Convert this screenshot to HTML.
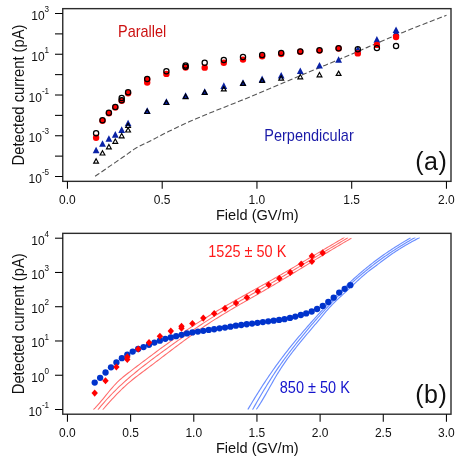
<!DOCTYPE html>
<html><head><meta charset="utf-8"><title>Figure</title>
<style>html,body{margin:0;padding:0;background:#fff}body{width:469px;height:469px;overflow:hidden;font-family:"Liberation Sans",sans-serif}</style></head>
<body>
<svg width="469" height="469" viewBox="0 0 469 469" style="display:block;will-change:transform;font-family:'Liberation Sans',sans-serif">
<rect width="469" height="469" fill="#fff"/>
<path d="M95.10 176.30L98.05 174.27L101.01 172.24L103.96 170.21L106.91 168.18L109.86 166.14L112.82 164.11L115.77 162.08L118.72 160.06L121.68 158.05L124.63 156.01L127.58 153.92L130.54 151.71L133.49 149.63L136.44 147.85L139.39 146.27L142.35 144.81L145.30 143.40L148.25 141.98L151.21 140.48L154.16 138.94L157.11 137.38L160.06 135.83L163.02 134.30L165.97 132.82L168.92 131.36L171.88 129.91L174.83 128.49L177.78 127.07L180.74 125.68L183.69 124.30L186.64 122.95L189.59 121.62L192.55 120.31L195.50 119.02L198.45 117.76L201.41 116.52L204.36 115.29L207.31 114.07L210.26 112.86L213.22 111.66L216.17 110.46L219.12 109.26L222.08 108.08L225.03 106.91L227.98 105.74L230.94 104.58L233.89 103.42L236.84 102.24L239.79 101.06L242.75 99.86L245.70 98.64L248.65 97.40L251.61 96.15L254.56 94.90L257.51 93.65L260.46 92.40L263.42 91.16L266.37 89.92L269.32 88.68L272.28 87.45L275.23 86.21L278.18 84.97L281.14 83.73L284.09 82.49L287.04 81.25L289.99 80.02L292.95 78.78L295.90 77.54L298.85 76.30L301.81 75.07L304.76 73.83L307.71 72.59L310.66 71.35L313.62 70.11L316.57 68.87L319.52 67.63L322.48 66.39L325.43 65.15L328.38 63.91L331.34 62.67L334.29 61.43L337.24 60.18L340.19 58.94L343.15 57.69L346.10 56.45L349.05 55.20L352.01 53.95L354.96 52.70L357.91 51.44L360.86 50.17L363.82 48.90L366.77 47.63L369.72 46.36L372.68 45.08L375.63 43.81L378.58 42.54L381.54 41.28L384.49 40.02L387.44 38.76L390.39 37.52L393.35 36.28L396.30 35.06L399.25 33.85L402.21 32.64L405.16 31.45L408.11 30.26L411.06 29.07L414.02 27.90L416.97 26.73L419.92 25.56L422.88 24.40L425.83 23.25L428.78 22.10L431.74 20.96L434.69 19.83L437.64 18.70L440.59 17.57L443.55 16.46L446.50 15.35" fill="none" stroke="#555" stroke-width="1.1" stroke-dasharray="5.2 2.5"/>
<path d="M96.10 146.65L99.50 153.25L92.70 153.25Z" fill="#0a22a6"/>
<path d="M102.50 140.15L105.90 146.75L99.10 146.75Z" fill="#0a22a6"/>
<path d="M108.90 135.25L112.30 141.85L105.50 141.85Z" fill="#0a22a6"/>
<path d="M115.30 131.05L118.70 137.65L111.90 137.65Z" fill="#0a22a6"/>
<path d="M121.70 126.35L125.10 132.95L118.30 132.95Z" fill="#0a22a6"/>
<path d="M128.10 119.65L131.50 126.25L124.70 126.25Z" fill="#0a22a6"/>
<path d="M147.20 107.20L150.60 113.80L143.80 113.80Z" fill="#0a22a6"/>
<path d="M166.40 98.15L169.80 104.75L163.00 104.75Z" fill="#0a22a6"/>
<path d="M185.60 92.25L189.00 98.85L182.20 98.85Z" fill="#0a22a6"/>
<path d="M204.70 88.15L208.10 94.75L201.30 94.75Z" fill="#0a22a6"/>
<path d="M223.80 82.35L227.20 88.95L220.40 88.95Z" fill="#0a22a6"/>
<path d="M243.00 79.15L246.40 85.75L239.60 85.75Z" fill="#0a22a6"/>
<path d="M262.15 75.55L265.55 82.15L258.75 82.15Z" fill="#0a22a6"/>
<path d="M281.20 71.95L284.60 78.55L277.80 78.55Z" fill="#0a22a6"/>
<path d="M300.30 67.45L303.70 74.05L296.90 74.05Z" fill="#0a22a6"/>
<path d="M319.50 61.95L322.90 68.55L316.10 68.55Z" fill="#0a22a6"/>
<path d="M338.60 56.25L342.00 62.85L335.20 62.85Z" fill="#0a22a6"/>
<path d="M357.80 45.75L361.20 52.35L354.40 52.35Z" fill="#0a22a6"/>
<path d="M376.90 36.05L380.30 42.65L373.50 42.65Z" fill="#0a22a6"/>
<path d="M396.05 26.45L399.45 33.05L392.65 33.05Z" fill="#0a22a6"/>
<path d="M396.05 29.05L399.45 35.65L392.65 35.65Z" fill="#0a22a6"/>
<path d="M96.10 158.80L98.50 163.10L93.70 163.10Z" fill="none" stroke="#000" stroke-width="1.15" stroke-linejoin="miter"/>
<path d="M102.50 150.70L104.90 155.00L100.10 155.00Z" fill="none" stroke="#000" stroke-width="1.15" stroke-linejoin="miter"/>
<path d="M108.90 144.50L111.30 148.80L106.50 148.80Z" fill="none" stroke="#000" stroke-width="1.15" stroke-linejoin="miter"/>
<path d="M115.30 139.00L117.70 143.30L112.90 143.30Z" fill="none" stroke="#000" stroke-width="1.15" stroke-linejoin="miter"/>
<path d="M121.70 133.50L124.10 137.80L119.30 137.80Z" fill="none" stroke="#000" stroke-width="1.15" stroke-linejoin="miter"/>
<path d="M128.10 127.70L130.50 132.00L125.70 132.00Z" fill="none" stroke="#000" stroke-width="1.15" stroke-linejoin="miter"/>
<path d="M128.10 123.20L130.50 127.50L125.70 127.50Z" fill="none" stroke="#000" stroke-width="1.15" stroke-linejoin="miter"/>
<path d="M147.20 109.20L149.60 113.50L144.80 113.50Z" fill="none" stroke="#000" stroke-width="1.15" stroke-linejoin="miter"/>
<path d="M166.40 100.20L168.80 104.50L164.00 104.50Z" fill="none" stroke="#000" stroke-width="1.15" stroke-linejoin="miter"/>
<path d="M185.60 94.30L188.00 98.60L183.20 98.60Z" fill="none" stroke="#000" stroke-width="1.15" stroke-linejoin="miter"/>
<path d="M204.70 90.10L207.10 94.40L202.30 94.40Z" fill="none" stroke="#000" stroke-width="1.15" stroke-linejoin="miter"/>
<path d="M223.80 86.60L226.20 90.90L221.40 90.90Z" fill="none" stroke="#000" stroke-width="1.15" stroke-linejoin="miter"/>
<path d="M243.00 81.10L245.40 85.40L240.60 85.40Z" fill="none" stroke="#000" stroke-width="1.15" stroke-linejoin="miter"/>
<path d="M262.15 78.10L264.55 82.40L259.75 82.40Z" fill="none" stroke="#000" stroke-width="1.15" stroke-linejoin="miter"/>
<path d="M281.20 75.80L283.60 80.10L278.80 80.10Z" fill="none" stroke="#000" stroke-width="1.15" stroke-linejoin="miter"/>
<path d="M300.30 74.50L302.70 78.80L297.90 78.80Z" fill="none" stroke="#000" stroke-width="1.15" stroke-linejoin="miter"/>
<path d="M319.50 72.50L321.90 76.80L317.10 76.80Z" fill="none" stroke="#000" stroke-width="1.15" stroke-linejoin="miter"/>
<path d="M338.60 71.10L341.00 75.40L336.20 75.40Z" fill="none" stroke="#000" stroke-width="1.15" stroke-linejoin="miter"/>
<circle cx="96.10" cy="137.70" r="3.2" fill="#ff0000"/>
<circle cx="102.50" cy="120.70" r="3.2" fill="#ff0000"/>
<circle cx="108.90" cy="113.20" r="3.2" fill="#ff0000"/>
<circle cx="115.30" cy="107.40" r="3.2" fill="#ff0000"/>
<circle cx="121.70" cy="100.70" r="3.2" fill="#ff0000"/>
<circle cx="128.10" cy="93.20" r="3.2" fill="#ff0000"/>
<circle cx="147.20" cy="79.40" r="3.2" fill="#ff0000"/>
<circle cx="147.20" cy="82.60" r="3.2" fill="#ff0000"/>
<circle cx="166.40" cy="73.90" r="3.2" fill="#ff0000"/>
<circle cx="185.60" cy="67.50" r="3.2" fill="#ff0000"/>
<circle cx="204.70" cy="67.65" r="3.2" fill="#ff0000"/>
<circle cx="223.80" cy="62.80" r="3.2" fill="#ff0000"/>
<circle cx="243.00" cy="59.60" r="3.2" fill="#ff0000"/>
<circle cx="262.15" cy="56.20" r="3.2" fill="#ff0000"/>
<circle cx="281.20" cy="54.05" r="3.2" fill="#ff0000"/>
<circle cx="300.30" cy="51.75" r="3.2" fill="#ff0000"/>
<circle cx="319.50" cy="50.60" r="3.2" fill="#ff0000"/>
<circle cx="338.60" cy="48.50" r="3.2" fill="#ff0000"/>
<circle cx="357.80" cy="53.40" r="3.2" fill="#ff0000"/>
<circle cx="376.90" cy="44.90" r="3.2" fill="#ff0000"/>
<circle cx="396.05" cy="37.00" r="3.2" fill="#ff0000"/>
<circle cx="96.10" cy="133.30" r="2.6" fill="none" stroke="#000" stroke-width="1.25"/>
<circle cx="102.50" cy="120.20" r="2.6" fill="none" stroke="#000" stroke-width="1.25"/>
<circle cx="108.90" cy="112.80" r="2.6" fill="none" stroke="#000" stroke-width="1.25"/>
<circle cx="115.30" cy="107.00" r="2.6" fill="none" stroke="#000" stroke-width="1.25"/>
<circle cx="121.70" cy="97.90" r="2.6" fill="none" stroke="#000" stroke-width="1.25"/>
<circle cx="121.70" cy="100.20" r="2.6" fill="none" stroke="#000" stroke-width="1.25"/>
<circle cx="128.10" cy="92.20" r="2.6" fill="none" stroke="#000" stroke-width="1.25"/>
<circle cx="147.20" cy="79.05" r="2.6" fill="none" stroke="#000" stroke-width="1.25"/>
<circle cx="166.40" cy="71.25" r="2.6" fill="none" stroke="#000" stroke-width="1.25"/>
<circle cx="185.60" cy="65.50" r="2.6" fill="none" stroke="#000" stroke-width="1.25"/>
<circle cx="185.60" cy="66.80" r="2.6" fill="none" stroke="#000" stroke-width="1.25"/>
<circle cx="204.70" cy="62.80" r="2.6" fill="none" stroke="#000" stroke-width="1.25"/>
<circle cx="223.80" cy="60.00" r="2.6" fill="none" stroke="#000" stroke-width="1.25"/>
<circle cx="243.00" cy="57.00" r="2.6" fill="none" stroke="#000" stroke-width="1.25"/>
<circle cx="262.15" cy="54.90" r="2.6" fill="none" stroke="#000" stroke-width="1.25"/>
<circle cx="281.20" cy="53.00" r="2.6" fill="none" stroke="#000" stroke-width="1.25"/>
<circle cx="300.30" cy="51.50" r="2.6" fill="none" stroke="#000" stroke-width="1.25"/>
<circle cx="319.50" cy="50.20" r="2.6" fill="none" stroke="#000" stroke-width="1.25"/>
<circle cx="338.60" cy="48.30" r="2.6" fill="none" stroke="#000" stroke-width="1.25"/>
<circle cx="357.80" cy="49.20" r="2.6" fill="none" stroke="#000" stroke-width="1.25"/>
<circle cx="376.90" cy="48.10" r="2.6" fill="none" stroke="#000" stroke-width="1.25"/>
<circle cx="396.05" cy="45.90" r="2.6" fill="none" stroke="#000" stroke-width="1.25"/>
<rect x="62.75" y="8.65" width="388.25" height="172.7" fill="none" stroke="#2c2c2c" stroke-width="1.4"/>
<line x1="55.0" x2="62.75" y1="13.50" y2="13.50" stroke="#000" stroke-width="1.05"/>
<text transform="translate(49.1 20.00) scale(0.945 1)" text-anchor="end" font-size="12.7" fill="#111">10<tspan font-size="8.6" dy="-7.8">3</tspan></text>
<line x1="55.0" x2="62.75" y1="33.88" y2="33.88" stroke="#000" stroke-width="1.05"/>
<line x1="55.0" x2="62.75" y1="54.25" y2="54.25" stroke="#000" stroke-width="1.05"/>
<text transform="translate(49.1 60.75) scale(0.945 1)" text-anchor="end" font-size="12.7" fill="#111">10<tspan font-size="8.6" dy="-7.8">1</tspan></text>
<line x1="55.0" x2="62.75" y1="74.62" y2="74.62" stroke="#000" stroke-width="1.05"/>
<line x1="55.0" x2="62.75" y1="95.00" y2="95.00" stroke="#000" stroke-width="1.05"/>
<text transform="translate(49.1 101.50) scale(0.945 1)" text-anchor="end" font-size="12.7" fill="#111">10<tspan font-size="8.6" dy="-7.8">-1</tspan></text>
<line x1="55.0" x2="62.75" y1="115.38" y2="115.38" stroke="#000" stroke-width="1.05"/>
<line x1="55.0" x2="62.75" y1="135.75" y2="135.75" stroke="#000" stroke-width="1.05"/>
<text transform="translate(49.1 142.25) scale(0.945 1)" text-anchor="end" font-size="12.7" fill="#111">10<tspan font-size="8.6" dy="-7.8">-3</tspan></text>
<line x1="55.0" x2="62.75" y1="156.12" y2="156.12" stroke="#000" stroke-width="1.05"/>
<line x1="55.0" x2="62.75" y1="176.50" y2="176.50" stroke="#000" stroke-width="1.05"/>
<text transform="translate(49.1 183.00) scale(0.945 1)" text-anchor="end" font-size="12.7" fill="#111">10<tspan font-size="8.6" dy="-7.8">-5</tspan></text>
<line x1="67.45" x2="67.45" y1="181.35" y2="188.8" stroke="#000" stroke-width="1.05"/>
<text transform="translate(67.45 204.2) scale(0.945 1)" text-anchor="middle" font-size="12.7" fill="#111">0.0</text>
<line x1="162.20" x2="162.20" y1="181.35" y2="188.8" stroke="#000" stroke-width="1.05"/>
<text transform="translate(162.20 204.2) scale(0.945 1)" text-anchor="middle" font-size="12.7" fill="#111">0.5</text>
<line x1="256.95" x2="256.95" y1="181.35" y2="188.8" stroke="#000" stroke-width="1.05"/>
<text transform="translate(256.95 204.2) scale(0.945 1)" text-anchor="middle" font-size="12.7" fill="#111">1.0</text>
<line x1="351.70" x2="351.70" y1="181.35" y2="188.8" stroke="#000" stroke-width="1.05"/>
<text transform="translate(351.70 204.2) scale(0.945 1)" text-anchor="middle" font-size="12.7" fill="#111">1.5</text>
<line x1="446.45" x2="446.45" y1="181.35" y2="188.8" stroke="#000" stroke-width="1.05"/>
<text transform="translate(446.45 204.2) scale(0.945 1)" text-anchor="middle" font-size="12.7" fill="#111">2.0</text>
<text transform="translate(257.3 219.5) scale(0.942 1)" text-anchor="middle" font-size="15.5" fill="#111">Field (GV/m)</text>
<text transform="translate(23.6 95.0) rotate(-90) scale(0.934 1)" text-anchor="middle" font-size="15.8" fill="#111">Detected current (pA)</text>
<text transform="translate(118.0 36.6) scale(0.918 1)" font-size="15.8" fill="#cc1111">Parallel</text>
<text transform="translate(264.3 141.1) scale(0.918 1)" font-size="15.8" fill="#1a1aa8">Perpendicular</text>
<text x="415.3" y="170.3" font-size="25" fill="#111" letter-spacing="0.5">(a)</text>
<clipPath id="c2"><rect x="60" y="237.4" width="400" height="172.4"/></clipPath>
<g clip-path="url(#c2)">
<path d="M93.40 409.71L94.98 408.11L96.56 406.43L98.14 404.66L99.72 402.84L101.30 400.96L102.88 399.05L104.46 397.11L106.04 395.16L107.62 393.22L109.20 391.29L110.78 389.40L112.36 387.55L113.94 385.76L115.52 384.06L117.10 382.45L118.68 380.93L120.26 379.48L121.84 378.10L123.42 376.77L125.00 375.49L126.58 374.24L128.16 373.02L129.74 371.81L131.32 370.60L132.90 369.40L134.48 368.19L136.06 366.99L137.64 365.78L139.22 364.58L140.80 363.39L142.38 362.19L143.96 360.99L145.54 359.80L147.12 358.61L148.70 357.42L150.28 356.24L151.86 355.06L153.44 353.88L155.02 352.71L156.59 351.53L158.17 350.37L159.75 349.20L161.33 348.04L162.91 346.89L164.49 345.74L166.07 344.59L167.65 343.45L169.23 342.31L170.81 341.18L172.39 340.06L173.97 338.94L175.55 337.82L177.13 336.71L178.71 335.61L180.29 334.51L181.87 333.42L183.45 332.34L185.03 331.26L186.61 330.19L188.19 329.13L189.77 328.07L191.35 327.03L192.93 325.98L194.51 324.95L196.09 323.93L197.67 322.91L199.25 321.90L200.83 320.90L202.41 319.90L203.99 318.91L205.57 317.93L207.15 316.96L208.73 315.99L210.31 315.03L211.89 314.07L213.47 313.12L215.05 312.17L216.63 311.23L218.21 310.30L219.79 309.37L221.37 308.44L222.95 307.52L224.53 306.60L226.11 305.69L227.69 304.78L229.27 303.87L230.85 302.96L232.43 302.06L234.01 301.17L235.59 300.27L237.17 299.38L238.75 298.49L240.33 297.60L241.91 296.71L243.49 295.82L245.07 294.94L246.65 294.06L248.23 293.17L249.81 292.29L251.39 291.41L252.97 290.53L254.55 289.64L256.13 288.76L257.71 287.88L259.29 287.00L260.87 286.11L262.45 285.22L264.03 284.34L265.61 283.45L267.19 282.56L268.77 281.66L270.35 280.77L271.93 279.87L273.51 278.97L275.09 278.07L276.67 277.16L278.25 276.26L279.83 275.35L281.41 274.44L282.98 273.53L284.56 272.61L286.14 271.70L287.72 270.78L289.30 269.86L290.88 268.94L292.46 268.02L294.04 267.09L295.62 266.17L297.20 265.24L298.78 264.32L300.36 263.39L301.94 262.46L303.52 261.53L305.10 260.60L306.68 259.67L308.26 258.74L309.84 257.81L311.42 256.87L313.00 255.94L314.58 255.01L316.16 254.08L317.74 253.15L319.32 252.21L320.90 251.28L322.48 250.35L324.06 249.42L325.64 248.48L327.22 247.55L328.80 246.62L330.38 245.69L331.96 244.76L333.54 243.84L335.12 242.91L336.70 241.98L338.28 241.06L339.86 240.13L341.44 239.21L343.02 238.29L344.60 237.37" fill="none" stroke="#ff6a6a" stroke-width="1.05"/>
<path d="M97.90 409.80L99.47 407.86L101.05 405.96L102.62 404.11L104.20 402.29L105.77 400.51L107.34 398.76L108.92 397.05L110.49 395.38L112.07 393.74L113.64 392.13L115.21 390.55L116.79 389.00L118.36 387.48L119.93 385.98L121.51 384.51L123.08 383.07L124.66 381.64L126.23 380.25L127.80 378.87L129.38 377.51L130.95 376.17L132.53 374.84L134.10 373.54L135.67 372.25L137.25 370.97L138.82 369.70L140.40 368.45L141.97 367.21L143.54 365.98L145.12 364.76L146.69 363.54L148.26 362.34L149.84 361.14L151.41 359.95L152.99 358.76L154.56 357.58L156.13 356.41L157.71 355.23L159.28 354.07L160.86 352.91L162.43 351.75L164.00 350.60L165.58 349.46L167.15 348.31L168.73 347.18L170.30 346.04L171.87 344.91L173.45 343.79L175.02 342.66L176.59 341.55L178.17 340.43L179.74 339.32L181.32 338.21L182.89 337.10L184.46 336.00L186.04 334.90L187.61 333.81L189.19 332.72L190.76 331.64L192.33 330.56L193.91 329.48L195.48 328.41L197.06 327.35L198.63 326.29L200.20 325.24L201.78 324.20L203.35 323.16L204.93 322.13L206.50 321.11L208.07 320.10L209.65 319.09L211.22 318.09L212.79 317.10L214.37 316.12L215.94 315.15L217.52 314.18L219.09 313.22L220.66 312.27L222.24 311.32L223.81 310.38L225.39 309.44L226.96 308.51L228.53 307.58L230.11 306.66L231.68 305.75L233.26 304.83L234.83 303.92L236.40 303.02L237.98 302.12L239.55 301.21L241.12 300.32L242.70 299.42L244.27 298.53L245.85 297.63L247.42 296.74L248.99 295.85L250.57 294.96L252.14 294.07L253.72 293.18L255.29 292.29L256.86 291.39L258.44 290.50L260.01 289.61L261.59 288.71L263.16 287.81L264.73 286.91L266.31 286.00L267.88 285.10L269.46 284.19L271.03 283.28L272.60 282.37L274.18 281.46L275.75 280.55L277.32 279.63L278.90 278.71L280.47 277.79L282.05 276.87L283.62 275.95L285.19 275.03L286.77 274.10L288.34 273.18L289.92 272.25L291.49 271.32L293.06 270.39L294.64 269.46L296.21 268.53L297.79 267.60L299.36 266.66L300.93 265.73L302.51 264.79L304.08 263.86L305.65 262.92L307.23 261.98L308.80 261.05L310.38 260.11L311.95 259.17L313.52 258.23L315.10 257.29L316.67 256.35L318.25 255.41L319.82 254.47L321.39 253.53L322.97 252.59L324.54 251.65L326.12 250.71L327.69 249.77L329.26 248.83L330.84 247.90L332.41 246.96L333.98 246.02L335.56 245.08L337.13 244.14L338.71 243.20L340.28 242.27L341.85 241.33L343.43 240.39L345.00 239.46L346.58 238.52L348.15 237.59" fill="none" stroke="#ff6a6a" stroke-width="1.05"/>
<path d="M102.70 409.78L104.26 407.97L105.83 406.18L107.39 404.41L108.96 402.65L110.52 400.92L112.09 399.20L113.65 397.52L115.22 395.85L116.78 394.22L118.35 392.62L119.91 391.04L121.48 389.50L123.04 388.00L124.61 386.53L126.17 385.09L127.74 383.70L129.30 382.35L130.87 381.04L132.43 379.76L134.00 378.50L135.56 377.28L137.13 376.07L138.69 374.88L140.25 373.71L141.82 372.54L143.38 371.37L144.95 370.21L146.51 369.04L148.08 367.86L149.64 366.69L151.21 365.50L152.77 364.32L154.34 363.13L155.90 361.95L157.47 360.75L159.03 359.56L160.60 358.37L162.16 357.18L163.73 355.98L165.29 354.79L166.86 353.60L168.42 352.41L169.99 351.22L171.55 350.03L173.12 348.84L174.68 347.66L176.24 346.48L177.81 345.31L179.37 344.13L180.94 342.97L182.50 341.80L184.07 340.65L185.63 339.50L187.20 338.35L188.76 337.21L190.33 336.08L191.89 334.96L193.46 333.84L195.02 332.73L196.59 331.63L198.15 330.54L199.72 329.46L201.28 328.39L202.85 327.33L204.41 326.28L205.98 325.24L207.54 324.21L209.11 323.19L210.67 322.17L212.23 321.17L213.80 320.17L215.36 319.18L216.93 318.20L218.49 317.23L220.06 316.26L221.62 315.30L223.19 314.34L224.75 313.40L226.32 312.45L227.88 311.52L229.45 310.58L231.01 309.66L232.58 308.73L234.14 307.81L235.71 306.90L237.27 305.98L238.84 305.07L240.40 304.17L241.97 303.26L243.53 302.36L245.09 301.46L246.66 300.56L248.22 299.67L249.79 298.77L251.35 297.87L252.92 296.98L254.48 296.08L256.05 295.18L257.61 294.29L259.18 293.39L260.74 292.49L262.31 291.59L263.87 290.68L265.44 289.78L267.00 288.87L268.57 287.96L270.13 287.05L271.70 286.13L273.26 285.21L274.83 284.28L276.39 283.35L277.96 282.42L279.52 281.49L281.08 280.55L282.65 279.61L284.21 278.67L285.78 277.73L287.34 276.78L288.91 275.84L290.47 274.89L292.04 273.94L293.60 272.99L295.17 272.03L296.73 271.08L298.30 270.12L299.86 269.17L301.43 268.21L302.99 267.25L304.56 266.29L306.12 265.34L307.69 264.38L309.25 263.42L310.82 262.46L312.38 261.51L313.95 260.55L315.51 259.59L317.07 258.64L318.64 257.68L320.20 256.73L321.77 255.78L323.33 254.83L324.90 253.88L326.46 252.93L328.03 251.99L329.59 251.04L331.16 250.10L332.72 249.16L334.29 248.23L335.85 247.30L337.42 246.36L338.98 245.44L340.55 244.51L342.11 243.59L343.68 242.67L345.24 241.76L346.81 240.85L348.37 239.94L349.94 239.04L351.50 238.14" fill="none" stroke="#ff6a6a" stroke-width="1.05"/>
<path d="M247.80 409.61L248.82 407.87L249.85 406.14L250.87 404.42L251.90 402.71L252.92 401.01L253.95 399.33L254.97 397.65L256.00 395.99L257.02 394.34L258.05 392.70L259.07 391.07L260.09 389.46L261.12 387.86L262.14 386.26L263.17 384.68L264.19 383.11L265.22 381.56L266.24 380.01L267.27 378.48L268.29 376.95L269.32 375.44L270.34 373.95L271.36 372.46L272.39 370.98L273.41 369.52L274.44 368.07L275.46 366.63L276.49 365.20L277.51 363.79L278.54 362.39L279.56 360.99L280.58 359.61L281.61 358.25L282.63 356.89L283.66 355.54L284.68 354.21L285.71 352.89L286.73 351.57L287.76 350.27L288.78 348.97L289.81 347.69L290.83 346.41L291.85 345.14L292.88 343.88L293.90 342.63L294.93 341.38L295.95 340.15L296.98 338.92L298.00 337.69L299.03 336.47L300.05 335.26L301.08 334.06L302.10 332.85L303.12 331.66L304.15 330.47L305.17 329.28L306.20 328.10L307.22 326.92L308.25 325.75L309.27 324.58L310.30 323.41L311.32 322.25L312.35 321.09L313.37 319.94L314.39 318.79L315.42 317.65L316.44 316.51L317.47 315.38L318.49 314.25L319.52 313.13L320.54 312.01L321.57 310.90L322.59 309.79L323.62 308.69L324.64 307.59L325.66 306.50L326.69 305.42L327.71 304.34L328.74 303.26L329.76 302.19L330.79 301.13L331.81 300.07L332.84 299.02L333.86 297.97L334.88 296.93L335.91 295.89L336.93 294.86L337.96 293.84L338.98 292.82L340.01 291.81L341.03 290.80L342.06 289.80L343.08 288.81L344.11 287.82L345.13 286.84L346.15 285.87L347.18 284.90L348.20 283.94L349.23 282.98L350.25 282.03L351.28 281.09L352.30 280.15L353.33 279.22L354.35 278.30L355.38 277.38L356.40 276.47L357.42 275.57L358.45 274.67L359.47 273.78L360.50 272.90L361.52 272.02L362.55 271.15L363.57 270.29L364.60 269.43L365.62 268.58L366.65 267.74L367.67 266.91L368.69 266.08L369.72 265.26L370.74 264.45L371.77 263.64L372.79 262.84L373.82 262.05L374.84 261.27L375.87 260.49L376.89 259.73L377.92 258.96L378.94 258.21L379.96 257.47L380.99 256.73L382.01 256.00L383.04 255.27L384.06 254.56L385.09 253.85L386.11 253.15L387.14 252.45L388.16 251.76L389.18 251.08L390.21 250.40L391.23 249.72L392.26 249.06L393.28 248.39L394.31 247.74L395.33 247.08L396.36 246.43L397.38 245.79L398.41 245.15L399.43 244.51L400.45 243.88L401.48 243.25L402.50 242.62L403.53 242.00L404.55 241.37L405.58 240.76L406.60 240.14L407.63 239.52L408.65 238.91L409.68 238.30L410.70 237.69" fill="none" stroke="#6a8eff" stroke-width="1.15"/>
<path d="M252.50 409.77L253.52 407.96L254.55 406.15L255.57 404.35L256.60 402.56L257.62 400.78L258.65 399.01L259.67 397.25L260.70 395.50L261.72 393.76L262.75 392.03L263.77 390.32L264.79 388.61L265.82 386.93L266.84 385.25L267.87 383.59L268.89 381.95L269.92 380.32L270.94 378.71L271.97 377.12L272.99 375.54L274.02 373.98L275.04 372.44L276.06 370.92L277.09 369.41L278.11 367.92L279.14 366.44L280.16 364.98L281.19 363.53L282.21 362.10L283.24 360.68L284.26 359.27L285.28 357.88L286.31 356.50L287.33 355.12L288.36 353.76L289.38 352.41L290.41 351.07L291.43 349.73L292.46 348.41L293.48 347.09L294.51 345.78L295.53 344.48L296.55 343.18L297.58 341.89L298.60 340.61L299.63 339.33L300.65 338.06L301.68 336.79L302.70 335.53L303.73 334.28L304.75 333.03L305.78 331.79L306.80 330.56L307.82 329.33L308.85 328.11L309.87 326.90L310.90 325.69L311.92 324.49L312.95 323.29L313.97 322.10L315.00 320.92L316.02 319.75L317.05 318.58L318.07 317.42L319.09 316.26L320.12 315.11L321.14 313.97L322.17 312.83L323.19 311.70L324.22 310.58L325.24 309.47L326.27 308.36L327.29 307.26L328.32 306.16L329.34 305.07L330.36 303.99L331.39 302.91L332.41 301.85L333.44 300.78L334.46 299.73L335.49 298.68L336.51 297.64L337.54 296.61L338.56 295.58L339.58 294.56L340.61 293.55L341.63 292.54L342.66 291.54L343.68 290.55L344.71 289.56L345.73 288.59L346.76 287.62L347.78 286.65L348.81 285.69L349.83 284.74L350.85 283.80L351.88 282.87L352.90 281.94L353.93 281.01L354.95 280.10L355.98 279.19L357.00 278.29L358.03 277.40L359.05 276.52L360.08 275.64L361.10 274.77L362.12 273.90L363.15 273.05L364.17 272.20L365.20 271.35L366.22 270.52L367.25 269.69L368.27 268.87L369.30 268.05L370.32 267.24L371.35 266.44L372.37 265.65L373.39 264.86L374.42 264.08L375.44 263.30L376.47 262.53L377.49 261.77L378.52 261.01L379.54 260.26L380.57 259.51L381.59 258.78L382.62 258.04L383.64 257.32L384.66 256.59L385.69 255.88L386.71 255.17L387.74 254.47L388.76 253.77L389.79 253.08L390.81 252.39L391.84 251.71L392.86 251.03L393.88 250.36L394.91 249.69L395.93 249.03L396.96 248.38L397.98 247.73L399.01 247.08L400.03 246.44L401.06 245.81L402.08 245.18L403.11 244.55L404.13 243.93L405.15 243.31L406.18 242.70L407.20 242.09L408.23 241.49L409.25 240.89L410.28 240.30L411.30 239.71L412.33 239.12L413.35 238.54L414.38 237.96L415.40 237.39" fill="none" stroke="#6a8eff" stroke-width="1.15"/>
<path d="M256.30 409.47L257.33 408.00L258.36 406.47L259.39 404.89L260.42 403.27L261.44 401.60L262.47 399.90L263.50 398.16L264.53 396.40L265.56 394.61L266.59 392.81L267.62 390.99L268.65 389.16L269.68 387.33L270.71 385.50L271.73 383.68L272.76 381.86L273.79 380.07L274.82 378.29L275.85 376.53L276.88 374.81L277.91 373.12L278.94 371.46L279.97 369.83L280.99 368.23L282.02 366.66L283.05 365.12L284.08 363.60L285.11 362.11L286.14 360.64L287.17 359.19L288.20 357.77L289.23 356.36L290.25 354.98L291.28 353.61L292.31 352.26L293.34 350.92L294.37 349.60L295.40 348.29L296.43 347.00L297.46 345.71L298.49 344.43L299.52 343.17L300.54 341.91L301.57 340.65L302.60 339.41L303.63 338.17L304.66 336.93L305.69 335.70L306.72 334.47L307.75 333.25L308.78 332.03L309.80 330.81L310.83 329.59L311.86 328.38L312.89 327.16L313.92 325.95L314.95 324.73L315.98 323.51L317.01 322.29L318.04 321.07L319.06 319.84L320.09 318.61L321.12 317.38L322.15 316.14L323.18 314.91L324.21 313.68L325.24 312.45L326.27 311.24L327.30 310.05L328.33 308.88L329.35 307.73L330.38 306.60L331.41 305.51L332.44 304.43L333.47 303.39L334.50 302.36L335.53 301.35L336.56 300.36L337.59 299.38L338.61 298.41L339.64 297.45L340.67 296.50L341.70 295.55L342.73 294.61L343.76 293.66L344.79 292.71L345.82 291.76L346.85 290.80L347.87 289.83L348.90 288.87L349.93 287.90L350.96 286.93L351.99 285.96L353.02 285.00L354.05 284.03L355.08 283.07L356.11 282.11L357.14 281.16L358.16 280.22L359.19 279.28L360.22 278.35L361.25 277.43L362.28 276.52L363.31 275.62L364.34 274.73L365.37 273.86L366.40 273.00L367.42 272.16L368.45 271.33L369.48 270.52L370.51 269.73L371.54 268.96L372.57 268.21L373.60 267.45L374.63 266.70L375.66 265.94L376.68 265.18L377.71 264.40L378.74 263.62L379.77 262.84L380.80 262.06L381.83 261.28L382.86 260.50L383.89 259.72L384.92 258.96L385.95 258.20L386.97 257.45L388.00 256.71L389.03 255.98L390.06 255.26L391.09 254.54L392.12 253.84L393.15 253.14L394.18 252.45L395.21 251.77L396.23 251.10L397.26 250.43L398.29 249.77L399.32 249.12L400.35 248.48L401.38 247.84L402.41 247.21L403.44 246.59L404.47 245.97L405.49 245.37L406.52 244.76L407.55 244.17L408.58 243.58L409.61 243.00L410.64 242.42L411.67 241.85L412.70 241.28L413.73 240.72L414.76 240.17L415.78 239.62L416.81 239.08L417.84 238.54L418.87 238.01L419.90 237.48" fill="none" stroke="#6a8eff" stroke-width="1.15"/>
</g>
<circle cx="94.70" cy="382.60" r="3.15" fill="#0033cc"/>
<circle cx="100.13" cy="377.80" r="3.15" fill="#0033cc"/>
<circle cx="105.56" cy="372.50" r="3.15" fill="#0033cc"/>
<circle cx="110.99" cy="367.30" r="3.15" fill="#0033cc"/>
<circle cx="116.42" cy="362.40" r="3.15" fill="#0033cc"/>
<circle cx="121.85" cy="358.20" r="3.15" fill="#0033cc"/>
<circle cx="127.28" cy="354.70" r="3.15" fill="#0033cc"/>
<circle cx="132.71" cy="351.60" r="3.15" fill="#0033cc"/>
<circle cx="138.14" cy="349.00" r="3.15" fill="#0033cc"/>
<circle cx="143.57" cy="347.10" r="3.15" fill="#0033cc"/>
<circle cx="149.00" cy="344.80" r="3.15" fill="#0033cc"/>
<circle cx="154.43" cy="342.60" r="3.15" fill="#0033cc"/>
<circle cx="159.86" cy="340.70" r="3.15" fill="#0033cc"/>
<circle cx="165.29" cy="338.80" r="3.15" fill="#0033cc"/>
<circle cx="170.72" cy="337.50" r="3.15" fill="#0033cc"/>
<circle cx="176.15" cy="336.20" r="3.15" fill="#0033cc"/>
<circle cx="181.58" cy="334.80" r="3.15" fill="#0033cc"/>
<circle cx="187.01" cy="333.40" r="3.15" fill="#0033cc"/>
<circle cx="192.44" cy="332.45" r="3.15" fill="#0033cc"/>
<circle cx="197.87" cy="331.55" r="3.15" fill="#0033cc"/>
<circle cx="203.30" cy="330.80" r="3.15" fill="#0033cc"/>
<circle cx="208.73" cy="329.90" r="3.15" fill="#0033cc"/>
<circle cx="214.16" cy="329.25" r="3.15" fill="#0033cc"/>
<circle cx="219.59" cy="328.35" r="3.15" fill="#0033cc"/>
<circle cx="225.02" cy="327.60" r="3.15" fill="#0033cc"/>
<circle cx="230.45" cy="326.70" r="3.15" fill="#0033cc"/>
<circle cx="235.88" cy="325.70" r="3.15" fill="#0033cc"/>
<circle cx="241.28" cy="324.98" r="3.15" fill="#0033cc"/>
<circle cx="246.68" cy="324.26" r="3.15" fill="#0033cc"/>
<circle cx="252.09" cy="323.53" r="3.15" fill="#0033cc"/>
<circle cx="257.49" cy="322.81" r="3.15" fill="#0033cc"/>
<circle cx="262.89" cy="322.09" r="3.15" fill="#0033cc"/>
<circle cx="268.29" cy="321.37" r="3.15" fill="#0033cc"/>
<circle cx="273.70" cy="320.64" r="3.15" fill="#0033cc"/>
<circle cx="279.10" cy="319.92" r="3.15" fill="#0033cc"/>
<circle cx="284.50" cy="319.20" r="3.15" fill="#0033cc"/>
<circle cx="290.00" cy="317.90" r="3.15" fill="#0033cc"/>
<circle cx="295.35" cy="316.60" r="3.15" fill="#0033cc"/>
<circle cx="300.85" cy="315.00" r="3.15" fill="#0033cc"/>
<circle cx="306.20" cy="313.40" r="3.15" fill="#0033cc"/>
<circle cx="311.70" cy="311.50" r="3.15" fill="#0033cc"/>
<circle cx="317.10" cy="309.00" r="3.15" fill="#0033cc"/>
<circle cx="322.80" cy="305.90" r="3.15" fill="#0033cc"/>
<circle cx="328.30" cy="302.00" r="3.15" fill="#0033cc"/>
<circle cx="333.70" cy="297.70" r="3.15" fill="#0033cc"/>
<circle cx="339.20" cy="292.60" r="3.15" fill="#0033cc"/>
<circle cx="344.70" cy="288.80" r="3.15" fill="#0033cc"/>
<circle cx="350.30" cy="285.20" r="3.15" fill="#0033cc"/>
<path d="M94.70 389.55L97.90 393.10L94.70 396.65L91.50 393.10Z" fill="#ff0000"/>
<path d="M105.50 377.25L108.70 380.80L105.50 384.35L102.30 380.80Z" fill="#ff0000"/>
<path d="M116.40 363.45L119.60 367.00L116.40 370.55L113.20 367.00Z" fill="#ff0000"/>
<path d="M127.30 355.85L130.50 359.40L127.30 362.95L124.10 359.40Z" fill="#ff0000"/>
<path d="M127.30 353.35L130.50 356.90L127.30 360.45L124.10 356.90Z" fill="#ff0000"/>
<path d="M138.20 345.45L141.40 349.00L138.20 352.55L135.00 349.00Z" fill="#ff0000"/>
<path d="M149.05 339.05L152.25 342.60L149.05 346.15L145.85 342.60Z" fill="#ff0000"/>
<path d="M159.90 332.65L163.10 336.20L159.90 339.75L156.70 336.20Z" fill="#ff0000"/>
<path d="M170.80 327.55L174.00 331.10L170.80 334.65L167.60 331.10Z" fill="#ff0000"/>
<path d="M181.50 322.75L184.70 326.30L181.50 329.85L178.30 326.30Z" fill="#ff0000"/>
<path d="M181.50 324.75L184.70 328.30L181.50 331.85L178.30 328.30Z" fill="#ff0000"/>
<path d="M192.40 319.95L195.60 323.50L192.40 327.05L189.20 323.50Z" fill="#ff0000"/>
<path d="M203.30 314.55L206.50 318.10L203.30 321.65L200.10 318.10Z" fill="#ff0000"/>
<path d="M214.20 309.95L217.40 313.50L214.20 317.05L211.00 313.50Z" fill="#ff0000"/>
<path d="M225.00 304.85L228.20 308.40L225.00 311.95L221.80 308.40Z" fill="#ff0000"/>
<path d="M236.00 299.45L239.20 303.00L236.00 306.55L232.80 303.00Z" fill="#ff0000"/>
<path d="M246.90 293.95L250.10 297.50L246.90 301.05L243.70 297.50Z" fill="#ff0000"/>
<path d="M257.80 287.65L261.00 291.20L257.80 294.75L254.60 291.20Z" fill="#ff0000"/>
<path d="M268.60 281.25L271.80 284.80L268.60 288.35L265.40 284.80Z" fill="#ff0000"/>
<path d="M279.40 274.85L282.60 278.40L279.40 281.95L276.20 278.40Z" fill="#ff0000"/>
<path d="M290.30 268.85L293.50 272.40L290.30 275.95L287.10 272.40Z" fill="#ff0000"/>
<path d="M301.20 260.45L304.40 264.00L301.20 267.55L298.00 264.00Z" fill="#ff0000"/>
<path d="M311.90 257.95L315.10 261.50L311.90 265.05L308.70 261.50Z" fill="#ff0000"/>
<path d="M311.90 252.55L315.10 256.10L311.90 259.65L308.70 256.10Z" fill="#ff0000"/>
<path d="M322.70 249.35L325.90 252.90L322.70 256.45L319.50 252.90Z" fill="#ff0000"/>
<rect x="62.75" y="233.35" width="388.25" height="180.85" fill="none" stroke="#2c2c2c" stroke-width="1.4"/>
<line x1="55.0" x2="62.75" y1="238.20" y2="238.20" stroke="#000" stroke-width="1.05"/>
<text transform="translate(49.1 244.70) scale(0.945 1)" text-anchor="end" font-size="12.7" fill="#111">10<tspan font-size="8.6" dy="-7.8">4</tspan></text>
<line x1="55.0" x2="62.75" y1="272.46" y2="272.46" stroke="#000" stroke-width="1.05"/>
<text transform="translate(49.1 278.96) scale(0.945 1)" text-anchor="end" font-size="12.7" fill="#111">10<tspan font-size="8.6" dy="-7.8">3</tspan></text>
<line x1="55.0" x2="62.75" y1="306.72" y2="306.72" stroke="#000" stroke-width="1.05"/>
<text transform="translate(49.1 313.22) scale(0.945 1)" text-anchor="end" font-size="12.7" fill="#111">10<tspan font-size="8.6" dy="-7.8">2</tspan></text>
<line x1="55.0" x2="62.75" y1="340.98" y2="340.98" stroke="#000" stroke-width="1.05"/>
<text transform="translate(49.1 347.48) scale(0.945 1)" text-anchor="end" font-size="12.7" fill="#111">10<tspan font-size="8.6" dy="-7.8">1</tspan></text>
<line x1="55.0" x2="62.75" y1="375.24" y2="375.24" stroke="#000" stroke-width="1.05"/>
<text transform="translate(49.1 381.74) scale(0.945 1)" text-anchor="end" font-size="12.7" fill="#111">10<tspan font-size="8.6" dy="-7.8">0</tspan></text>
<line x1="55.0" x2="62.75" y1="409.50" y2="409.50" stroke="#000" stroke-width="1.05"/>
<text transform="translate(49.1 416.00) scale(0.945 1)" text-anchor="end" font-size="12.7" fill="#111">10<tspan font-size="8.6" dy="-7.8">-1</tspan></text>
<line x1="67.45" x2="67.45" y1="414.2" y2="421.7" stroke="#000" stroke-width="1.05"/>
<text transform="translate(67.45 437.2) scale(0.945 1)" text-anchor="middle" font-size="12.7" fill="#111">0.0</text>
<line x1="130.62" x2="130.62" y1="414.2" y2="421.7" stroke="#000" stroke-width="1.05"/>
<text transform="translate(130.62 437.2) scale(0.945 1)" text-anchor="middle" font-size="12.7" fill="#111">0.5</text>
<line x1="193.78" x2="193.78" y1="414.2" y2="421.7" stroke="#000" stroke-width="1.05"/>
<text transform="translate(193.78 437.2) scale(0.945 1)" text-anchor="middle" font-size="12.7" fill="#111">1.0</text>
<line x1="256.94" x2="256.94" y1="414.2" y2="421.7" stroke="#000" stroke-width="1.05"/>
<text transform="translate(256.94 437.2) scale(0.945 1)" text-anchor="middle" font-size="12.7" fill="#111">1.5</text>
<line x1="320.11" x2="320.11" y1="414.2" y2="421.7" stroke="#000" stroke-width="1.05"/>
<text transform="translate(320.11 437.2) scale(0.945 1)" text-anchor="middle" font-size="12.7" fill="#111">2.0</text>
<line x1="383.27" x2="383.27" y1="414.2" y2="421.7" stroke="#000" stroke-width="1.05"/>
<text transform="translate(383.27 437.2) scale(0.945 1)" text-anchor="middle" font-size="12.7" fill="#111">2.5</text>
<line x1="446.44" x2="446.44" y1="414.2" y2="421.7" stroke="#000" stroke-width="1.05"/>
<text transform="translate(446.44 437.2) scale(0.945 1)" text-anchor="middle" font-size="12.7" fill="#111">3.0</text>
<text transform="translate(257.3 453.0) scale(0.942 1)" text-anchor="middle" font-size="15.5" fill="#111">Field (GV/m)</text>
<text transform="translate(23.6 323.8) rotate(-90) scale(0.934 1)" text-anchor="middle" font-size="15.8" fill="#111">Detected current (pA)</text>
<text transform="translate(208.3 256.7) scale(0.918 1)" font-size="15.8" fill="#ff1a1a">1525 ± 50 K</text>
<text transform="translate(279.8 392.8) scale(0.918 1)" font-size="15.8" fill="#1414cc">850 ± 50 K</text>
<text x="415.3" y="403.3" font-size="25" fill="#111" letter-spacing="0.5">(b)</text>
</svg>
</body></html>
